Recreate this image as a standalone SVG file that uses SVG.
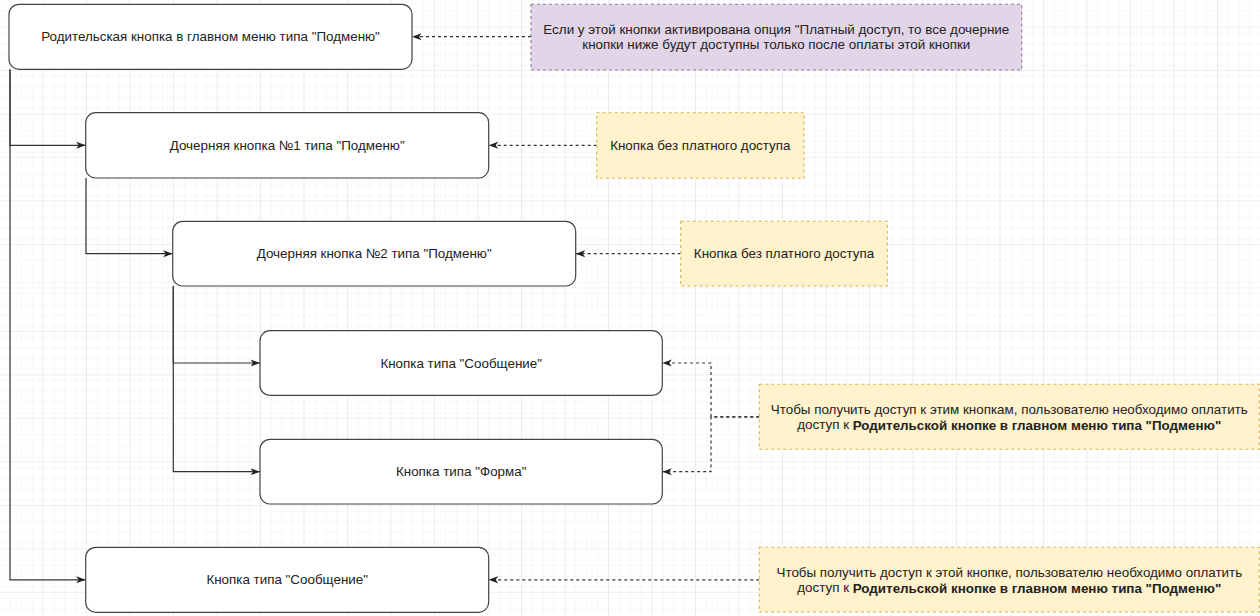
<svg xmlns="http://www.w3.org/2000/svg" width="1260" height="616" viewBox="0 0 1260 616">
  <defs>
    <pattern id="gridMinor" patternUnits="userSpaceOnUse" x="0" y="5.6" width="10.875" height="10.875">
      <path d="M10.875,0 V10.875 M0,10.875 H10.875" fill="none" stroke="#efefef" stroke-width="1"/>
    </pattern>
    <pattern id="gridMajor" patternUnits="userSpaceOnUse" x="0" y="27.4" width="43.5" height="43.5">
      <rect width="43.5" height="43.5" fill="url(#gridMinor)"/>
      <path d="M43.5,0 V43.5 M0,43.5 H43.5" fill="none" stroke="#e0e0e0" stroke-width="1"/>
    </pattern>
    <marker id="arrow" markerUnits="userSpaceOnUse" markerWidth="10" markerHeight="8" viewBox="0 0 10 8" refX="9.5" refY="4" orient="auto">
      <path d="M0,0.5 L9.5,4 L0,7.5 L2.5,4 Z" fill="#222"/>
    </marker>
  </defs>
  <style>
    .node { fill: #ffffff; stroke: #444444; stroke-width: 1.2; }
    .purple { fill: #e1d5e7; stroke: #9673a6; stroke-width: 1.1; stroke-dasharray: 3 3; }
    .yellow { fill: #fff2cc; stroke: #d6b656; stroke-width: 1.1; stroke-dasharray: 3 3; }
    .lbl { font-family: "Liberation Sans", Arial, sans-serif; font-size: 13.4px; fill: #222222; text-anchor: middle; dominant-baseline: central; }
    .b { font-weight: bold; }
    .edge { fill: none; stroke: #333333; stroke-width: 1.2; marker-end: url(#arrow); }
    .dash { fill: none; stroke: #333333; stroke-width: 1.2; stroke-dasharray: 3 3; marker-end: url(#arrow); }
  </style>
  <rect width="1260" height="616" fill="#ffffff"/>
  <rect width="1260" height="616" fill="url(#gridMajor)"/>

  <g id="connectors">
    <path class="edge" d="M10,69.5 V145.3 H85.7"/>
    <path class="edge" d="M10,69.5 V579.8 H85.7"/>
    <path class="edge" d="M86,178 V253.7 H172.7"/>
    <path class="edge" d="M173.3,286 V363 H260"/>
    <path class="edge" d="M173.3,286 V471.7 H260"/>
    <path class="dash" d="M531,36.7 H412"/>
    <path class="dash" d="M596.7,145.3 H488.7"/>
    <path class="dash" d="M680.7,253.7 H575.7"/>
    <path class="dash" d="M759.3,416.8 H711 V363 H662.3"/>
    <path class="dash" d="M759.3,416.8 H711 V471.7 H662.3"/>
    <path class="dash" d="M759.3,579.8 H488.7"/>
  </g>

  <g id="parent">
    <rect class="node" x="9" y="4.3" width="403" height="65" rx="10"/>
    <text class="lbl" x="210.5" y="36.8">Родительская кнопка в главном меню типа "Подменю"</text>
  </g>
  <g id="child1">
    <rect class="node" x="85.7" y="112.7" width="403" height="65.3" rx="10"/>
    <text class="lbl" x="287.2" y="145.3">Дочерняя кнопка №1 типа "Подменю"</text>
  </g>
  <g id="child2">
    <rect class="node" x="172.7" y="221.3" width="403" height="64.7" rx="10"/>
    <text class="lbl" x="374.2" y="253.7">Дочерняя кнопка №2 типа "Подменю"</text>
  </g>
  <g id="msg1">
    <rect class="node" x="260" y="330.7" width="402.3" height="64.7" rx="10"/>
    <text class="lbl" x="461.2" y="363">Кнопка типа "Сообщение"</text>
  </g>
  <g id="form">
    <rect class="node" x="260" y="439.3" width="402.3" height="64.7" rx="10"/>
    <text class="lbl" x="461.2" y="471.7">Кнопка типа "Форма"</text>
  </g>
  <g id="msg2">
    <rect class="node" x="85.7" y="547.3" width="403" height="65" rx="10"/>
    <text class="lbl" x="287.2" y="579.8">Кнопка типа "Сообщение"</text>
  </g>

  <g id="note-parent">
    <rect class="purple" x="531" y="4.3" width="490.7" height="65.7"/>
    <text class="lbl" x="776.3" y="29.5">Если у этой кнопки активирована опция "Платный доступ, то все дочерние</text>
    <text class="lbl" x="776.3" y="44.8">кнопки ниже будут доступны только после оплаты этой кнопки</text>
  </g>
  <g id="note-child1">
    <rect class="yellow" x="596.7" y="112.7" width="207.3" height="65.6"/>
    <text class="lbl" x="700.3" y="145.3">Кнопка без платного доступа</text>
  </g>
  <g id="note-child2">
    <rect class="yellow" x="680.7" y="221.3" width="206.6" height="64.7"/>
    <text class="lbl" x="784" y="253.7">Кнопка без платного доступа</text>
  </g>
  <g id="note-buttons">
    <rect class="yellow" x="759.3" y="384.3" width="500" height="65"/>
    <text class="lbl" x="1009.3" y="409.3">Чтобы получить доступ к этим кнопкам, пользователю необходимо оплатить</text>
    <text class="lbl" x="1009.3" y="424.6">доступ к <tspan class="b">Родительской кнопке в главном меню типа "Подменю"</tspan></text>
  </g>
  <g id="note-msg2">
    <rect class="yellow" x="759.3" y="547.3" width="500" height="64.7"/>
    <text class="lbl" x="1009.3" y="572.3">Чтобы получить доступ к этой кнопке, пользователю необходимо оплатить</text>
    <text class="lbl" x="1009.3" y="587.6">доступ к <tspan class="b">Родительской кнопке в главном меню типа "Подменю"</tspan></text>
  </g>
</svg>
